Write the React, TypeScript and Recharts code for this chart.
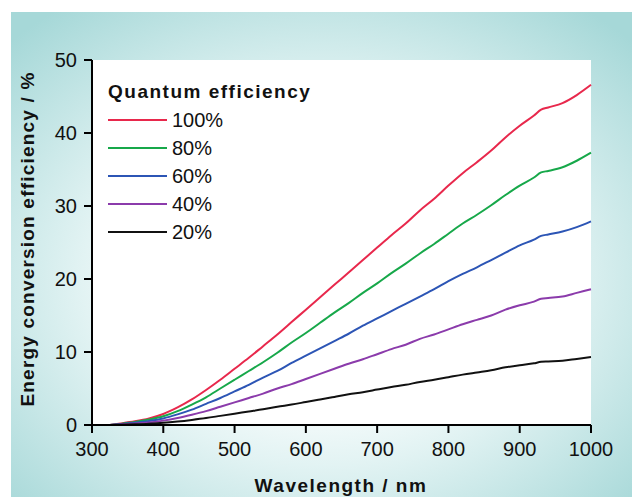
import { LineChart, Line, XAxis, YAxis, CartesianGrid, Label } from "recharts";

const wavelengths = [325, 340, 360, 380, 400, 420, 440, 460, 480, 500, 520, 540, 560, 580, 600, 620, 640, 660, 680, 700, 720, 740, 760, 780, 800, 820, 840, 860, 880, 900, 920, 930, 940, 960, 980, 1000];
const qe100 = [0, 0.2, 0.5, 0.9, 1.5, 2.4, 3.5, 4.8, 6.2, 7.7, 9.2, 10.8, 12.4, 14.1, 15.8, 17.5, 19.2, 20.9, 22.6, 24.3, 26.0, 27.6, 29.4, 31.0, 32.8, 34.5, 36.0, 37.6, 39.4, 41.0, 42.4, 43.2, 43.5, 44.1, 45.2, 46.6];
const qe80 = [0, 0.15, 0.4, 0.75, 1.2, 1.9, 2.8, 3.8, 5.0, 6.2, 7.4, 8.6, 9.9, 11.3, 12.6, 14.0, 15.4, 16.7, 18.1, 19.4, 20.8, 22.1, 23.5, 24.8, 26.2, 27.6, 28.8, 30.1, 31.5, 32.8, 33.9, 34.6, 34.8, 35.3, 36.2, 37.3];
const qe60 = [0, 0.1, 0.3, 0.55, 0.9, 1.45, 2.1, 2.9, 3.7, 4.6, 5.5, 6.5, 7.4, 8.5, 9.5, 10.5, 11.5, 12.5, 13.6, 14.6, 15.6, 16.6, 17.6, 18.6, 19.7, 20.7, 21.6, 22.6, 23.6, 24.6, 25.4, 25.9, 26.1, 26.5, 27.1, 27.9];
const qe40 = [0, 0.08, 0.2, 0.36, 0.6, 0.95, 1.4, 1.9, 2.5, 3.1, 3.7, 4.3, 5.0, 5.6, 6.3, 7.0, 7.7, 8.4, 9.0, 9.7, 10.4, 11.0, 11.8, 12.4, 13.1, 13.8, 14.4, 15.0, 15.8, 16.4, 16.9, 17.3, 17.4, 17.6, 18.1, 18.6];
const qe20 = [0, 0.04, 0.1, 0.18, 0.3, 0.48, 0.7, 0.95, 1.25, 1.55, 1.85, 2.15, 2.5, 2.8, 3.15, 3.5, 3.85, 4.2, 4.5, 4.85, 5.2, 5.5, 5.9, 6.2, 6.55, 6.9, 7.2, 7.5, 7.9, 8.2, 8.45, 8.65, 8.7, 8.8, 9.05, 9.3];

const xTicks = [300, 400, 500, 600, 700, 800, 900, 1000];
const yTicks = [0, 10, 20, 30, 40, 50];

const series = [
  { key: "qe100", name: "100%", values: qe100, color: "#e8284c" },
  { key: "qe80", name: "80%", values: qe80, color: "#17a84a" },
  { key: "qe60", name: "60%", values: qe60, color: "#2c55b5" },
  { key: "qe40", name: "40%", values: qe40, color: "#8b3bab" },
  { key: "qe20", name: "20%", values: qe20, color: "#111111" },
];

const data = wavelengths.map((w, i) => {
  const row: any = { wl: w };
  series.forEach((s) => (row[s.key] = s.values[i]));
  return row;
});

const font = "'Liberation Sans', Arial, sans-serif";

// legend drawn as plain html on top of the plot
function LegendBox() {
  return (
    <div style={{ position: "absolute", left: 108, top: 78, fontFamily: font, color: "#111" }}>
      <div style={{ fontWeight: "bold", fontSize: 19, letterSpacing: 1.5, height: 28, lineHeight: "28px", whiteSpace: "nowrap" }}>
        Quantum efficiency
      </div>
      {series.map((s) => (
        <div key={s.key} style={{ display: "flex", alignItems: "center", height: 28 }}>
          <div style={{ width: 59, height: 2, background: s.color, marginRight: 5 }} />
          <span style={{ fontSize: 20 }}>{s.name}</span>
        </div>
      ))}
    </div>
  );
}

export default function App() {
  return (
    <div style={{ position: "absolute", left: 0, top: 0, width: 632, height: 497, background: "#fff", overflow: "hidden" }}>
      <div
        style={{
          position: "absolute", left: 11, top: 12, width: 621, height: 485,
          background: "radial-gradient(ellipse 70% 70% at 50% 55%, #ffffff 30%, #e2f3f3 55%, #a6d8d8 100%)",
        }}
      />
      <div style={{ position: "absolute", left: 0, top: 0 }}>
        <LineChart width={632} height={497} data={data} margin={{ top: 60, right: 41, bottom: 0, left: 0 }}>
          <CartesianGrid horizontal={false} vertical={false} fill="#ffffff" fillOpacity={1} />
          <XAxis
            dataKey="wl" type="number" domain={[300, 1000]} ticks={xTicks} height={72}
            axisLine={{ stroke: "#000", strokeWidth: 2 }} tickLine={{ stroke: "#000", strokeWidth: 2 }}
            tickSize={8} tickMargin={9} tick={{ fill: "#111", fontSize: 20, fontFamily: font }}
          >
            <Label content={() => (
              <text x={341} y={492} textAnchor="middle" fontFamily={font} fontWeight="bold" fontSize={19} letterSpacing={1.5} fill="#111">
                Wavelength / nm
              </text>
            )} />
          </XAxis>
          <XAxis xAxisId="top" orientation="top" dataKey="wl" type="number" domain={[300, 1000]} height={0}
            tick={false} tickLine={false} axisLine={{ stroke: "#000", strokeWidth: 2 }} />
          <YAxis
            type="number" domain={[0, 50]} ticks={yTicks} width={92}
            axisLine={{ stroke: "#000", strokeWidth: 2 }} tickLine={{ stroke: "#000", strokeWidth: 2 }}
            tickSize={8} tickMargin={7} tick={{ fill: "#111", fontSize: 20, fontFamily: font }}
          >
            <Label content={() => (
              <text x={27} y={239} transform="rotate(-90 27 239)" textAnchor="middle" dominantBaseline="central"
                fontFamily={font} fontWeight="bold" fontSize={19} letterSpacing={1.2} fill="#111">
                Energy conversion efficiency / %
              </text>
            )} />
          </YAxis>
          <YAxis yAxisId="right" orientation="right" type="number" domain={[0, 50]} width={0}
            tick={false} tickLine={false} axisLine={{ stroke: "#000", strokeWidth: 2 }} />
          {series.map((s) => (
            <Line key={s.key} dataKey={s.key} name={s.name} type="monotone" stroke={s.color} strokeWidth={2}
              dot={false} isAnimationActive={false} />
          ))}
        </LineChart>
      </div>
      <LegendBox />
    </div>
  );
}
